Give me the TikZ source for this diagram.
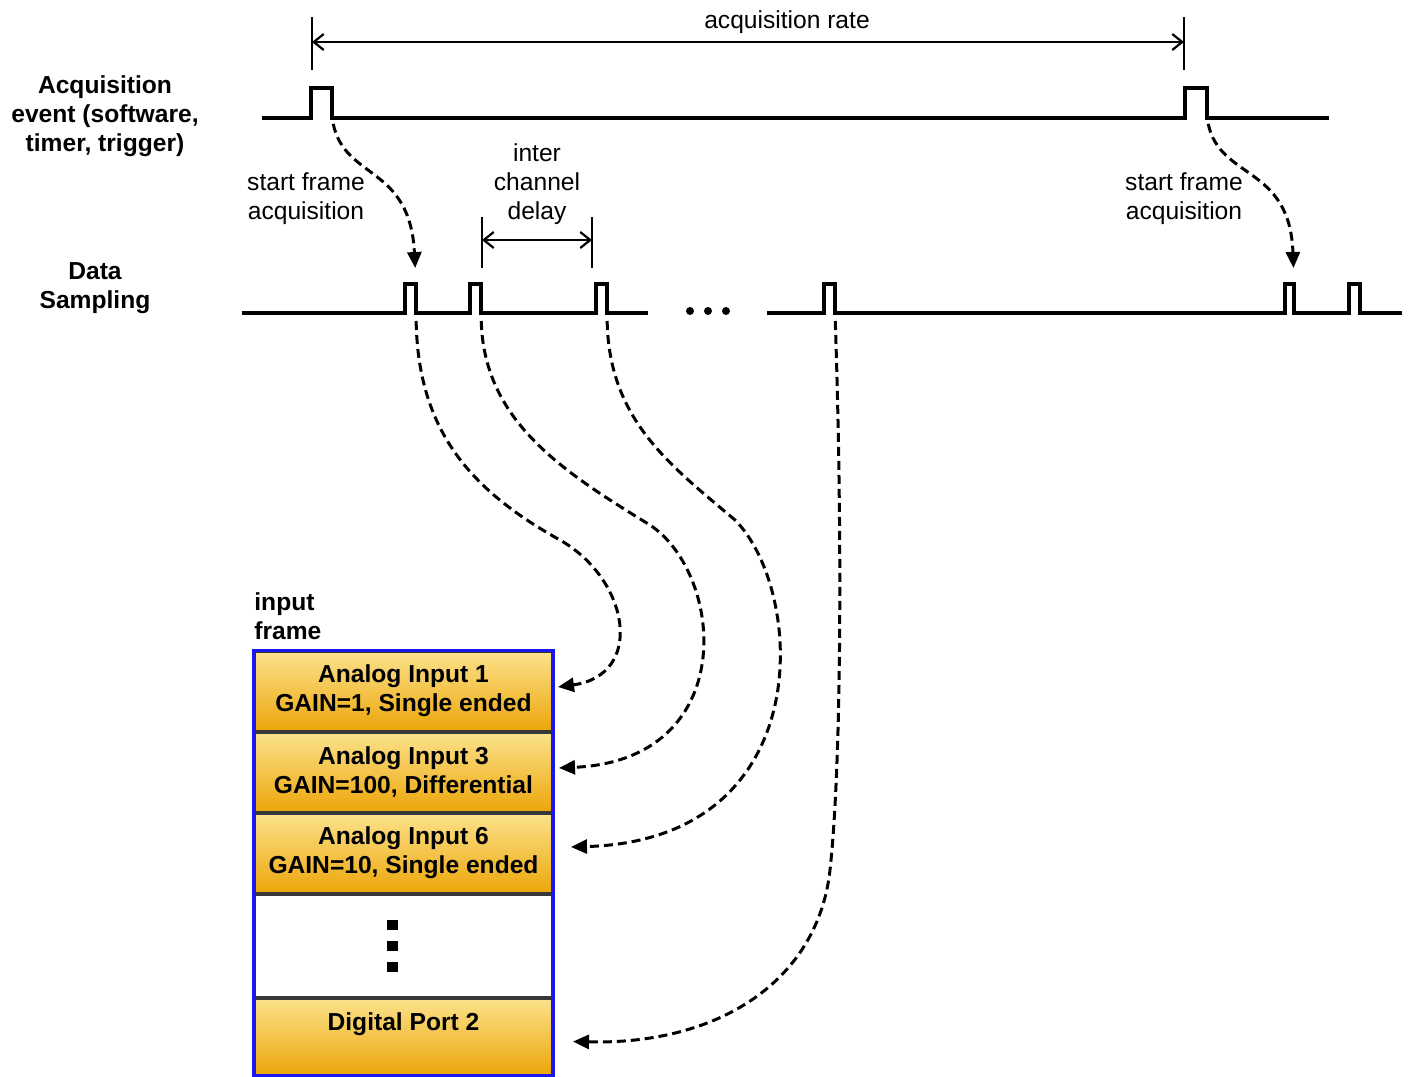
\documentclass[tikz,border=0pt]{standalone}
\usepackage{fontspec}
\setmainfont{Liberation Sans}
\definecolor{frmblue} {RGB}{25,25,235}
\definecolor{celltop} {RGB}{252,226,140}
\definecolor{cellbot} {RGB}{236,166,10}
\definecolor{sepgray} {RGB}{55,55,55}
\usetikzlibrary{arrows.meta,positioning,fit}
\tikzset{
  sig/.style={line width=1.7pt,line join=miter},
  flow/.style={-{Triangle[length=8pt,width=7pt]},line width=1.5pt,
               dash pattern=on 4.5pt off 2.5pt},
  dimarr/.style={{Straight Barb[length=5pt,width=8pt]}-{Straight Barb[length=5pt,width=8pt]},
                 line width=1.1pt},
  tickln/.style={line width=1.1pt},
  lbl/.style={font=\fontsize{12.3}{14.5}\selectfont,align=center,inner sep=1pt},
  hdr/.style={lbl,font=\fontsize{12.3}{14.5}\selectfont\bfseries},
  cell/.style={rectangle,draw=sepgray,line width=1pt,top color=celltop,bottom color=cellbot,
               minimum width=148.5pt,minimum height=39.5pt,inner sep=0pt,
               font=\fontsize{12.3}{14.5}\selectfont\bfseries,align=center},
  blankcell/.style={cell,top color=white,bottom color=white,minimum height=51pt},
  frmbox/.style={draw=frmblue,line width=1.6pt,inner sep=0pt},
}
\begin{document}
\begin{tikzpicture}[x=0.5pt,y=-0.5pt]
  \useasboundingbox (0,0) rectangle (1410,1077);

  % acquisition rate
  \coordinate (r1) at (312,42);
  \coordinate (r2) at (1184,42);
  \draw[tickln] (312,17) -- (312,70);
  \draw[tickln] (1184,17) -- (1184,70);
  \draw[dimarr] (r1) -- (r2);
  \node[lbl] (ratelbl) at (787,22) {acquisition rate};

  % signals
  \node[hdr] (evlbl) at (105,116) {Acquisition\\event (software,\\timer, trigger)};
  \draw[sig] (262,118) -- (311,118) -- (311,88) -- (332,88) -- (332,118) coordinate (e1)
    -- (1185,118) -- (1185,88) -- (1207,88) -- (1207,118) coordinate (e2) -- (1329,118);

  \node[hdr] (samplbl) at (95,288) {Data\\Sampling};
  \draw[sig] (242,313) -- (405,313) -- (405,284) -- (416,284) coordinate (p1) -- (416,313) coordinate (s1)
    -- (470,313) -- (470,284) -- (481,284) -- (481,313) coordinate (s2)
    -- (596,313) -- (596,284) -- (607,284) -- (607,313) coordinate (s3) -- (648,313);
  \draw[sig] (767,313) -- (824,313) -- (824,284) -- (835,284) -- (835,313) coordinate (s4)
    -- (1285,313) -- (1285,284) -- (1294,284) coordinate (p5) -- (1294,313)
    -- (1349,313) -- (1349,284) -- (1360,284) -- (1360,313) -- (1402,313);
  \foreach \x in {690,708,726}
    \fill (\x,311) circle (2pt);

  % start frame
  \node[lbl] (sf1) at (306,199) {start frame\\acquisition};
  \node[lbl] (sf2) at (1184,199) {start frame\\acquisition};
  \draw[flow,shorten <=3pt,shorten >=8pt] (e1) .. controls (345,180) and (410,165) .. (p1);
  \draw[flow,shorten <=3pt,shorten >=8pt] (e2) .. controls (1220,180) and (1290,165) .. (p5);

  % inter channel delay
  \node[lbl] (icd) at (537,184) {inter\\channel\\delay};
  \coordinate (d1) at (482,240);
  \coordinate (d2) at (592,240);
  \draw[tickln] (482,217) -- (482,268);
  \draw[tickln] (592,217) -- (592,268);
  \draw[dimarr] (d1) -- (d2);

  % input frame
  \node[hdr,align=left,anchor=west] (inlbl) at (252,616) {input\\frame};
  \node[cell] (cell1) at (403.5,691) {Analog Input 1\\GAIN=1, Single ended};
  \node[cell,below=0pt of cell1] (cell2) {Analog Input 3\\GAIN=100, Differential};
  \node[cell,below=0pt of cell2] (cell3) {Analog Input 6\\GAIN=10, Single ended};
  \node[blankcell,below=0pt of cell3] (cell4) {};
  \node[cell,minimum height=38pt,below=0pt of cell4] (cell5) {Digital Port 2\\~};
  \node[frmbox,fit=(cell1)(cell5)] (frame) {};
  \foreach \yy in {925,946,967}
    \fill (387,\yy-5) rectangle (398,\yy+5);

  % samples into frame
  \draw[flow,shorten <=4pt] (s1) .. controls (418,430) and (470,490) .. (560,540)
    .. controls (630,580) and (645,675) .. ([xshift=2.5pt,yshift=2pt]cell1.east);
  \draw[flow,shorten <=4pt] (s2) .. controls (484,420) and (560,470) .. (650,525)
    .. controls (725,575) and (740,760) .. ([xshift=3pt,yshift=2pt]cell2.east);
  \draw[flow,shorten <=4pt] (s3) .. controls (609,420) and (670,465) .. (735,520)
    .. controls (805,590) and (820,840) .. ([xshift=9pt,yshift=3pt]cell3.east);
  \draw[flow,shorten <=4pt] (s4) .. controls (842,520) and (842,760) .. (830,870)
    .. controls (818,980) and (720,1045) .. ([xshift=10pt,yshift=-2.5pt]cell5.east);
\end{tikzpicture}
\end{document}
